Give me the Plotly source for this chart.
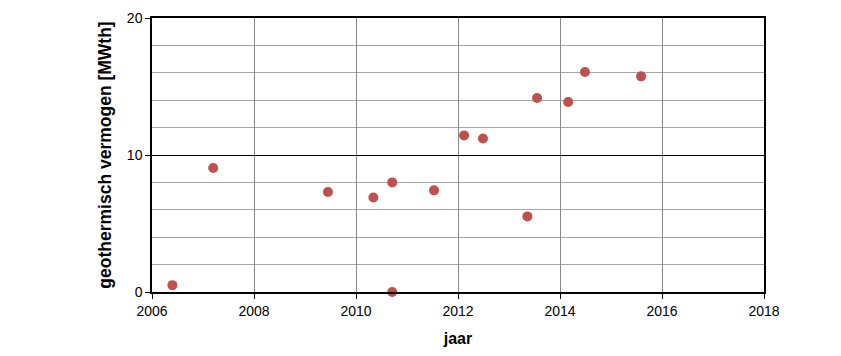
import plotly.graph_objects as go

years = [2006.40, 2007.20, 2009.45, 2010.34, 2010.71, 2010.71, 2011.53,
         2012.12, 2012.49, 2013.36, 2013.55, 2014.16, 2014.49, 2015.59]
values = [0.5, 9.05, 7.3, 6.9, 8.0, 0.0, 7.42,
          11.43, 11.21, 5.52, 14.16, 13.87, 16.06, 15.74]

x_title = "jaar"
y_title = "geothermisch vermogen [MWth]"

fig = go.Figure()
fig.add_trace(go.Scatter(
    x=years, y=values, mode="markers",
    marker=dict(color="#C0504D", size=10, line=dict(width=0)),
    cliponaxis=False, showlegend=False,
))

font_family = "Liberation Sans"
fig.update_layout(
    width=841, height=356,
    margin=dict(l=144, r=85, t=10, b=72, autoexpand=False),
    paper_bgcolor="white", plot_bgcolor="white",
    font=dict(family=font_family, size=14, color="black"),
    xaxis=dict(
        range=[2006, 2018], dtick=2, tick0=2006,
        showgrid=True, gridcolor="#878787", gridwidth=1,
        showline=True, linecolor="black", linewidth=1.5, mirror=True,
        ticks="outside", ticklen=5, tickcolor="black", tickwidth=1,
        zeroline=False,
        title=dict(text=x_title, font=dict(size=16, family=font_family, weight="bold"), standoff=15),
    ),
    yaxis=dict(
        range=[0, 20], dtick=10, tick0=0,
        showgrid=True, gridcolor="black", gridwidth=1,
        minor=dict(dtick=2, showgrid=True, gridcolor="#A6A6A6", gridwidth=1),
        showline=True, linecolor="black", linewidth=1.5, mirror=True,
        ticks="outside", ticklen=5, tickcolor="black", tickwidth=1,
        zeroline=False,
        title=dict(text=y_title, font=dict(size=17.5, family=font_family, weight="bold"), standoff=11),
    ),
)

fig.write_html("out.html")
